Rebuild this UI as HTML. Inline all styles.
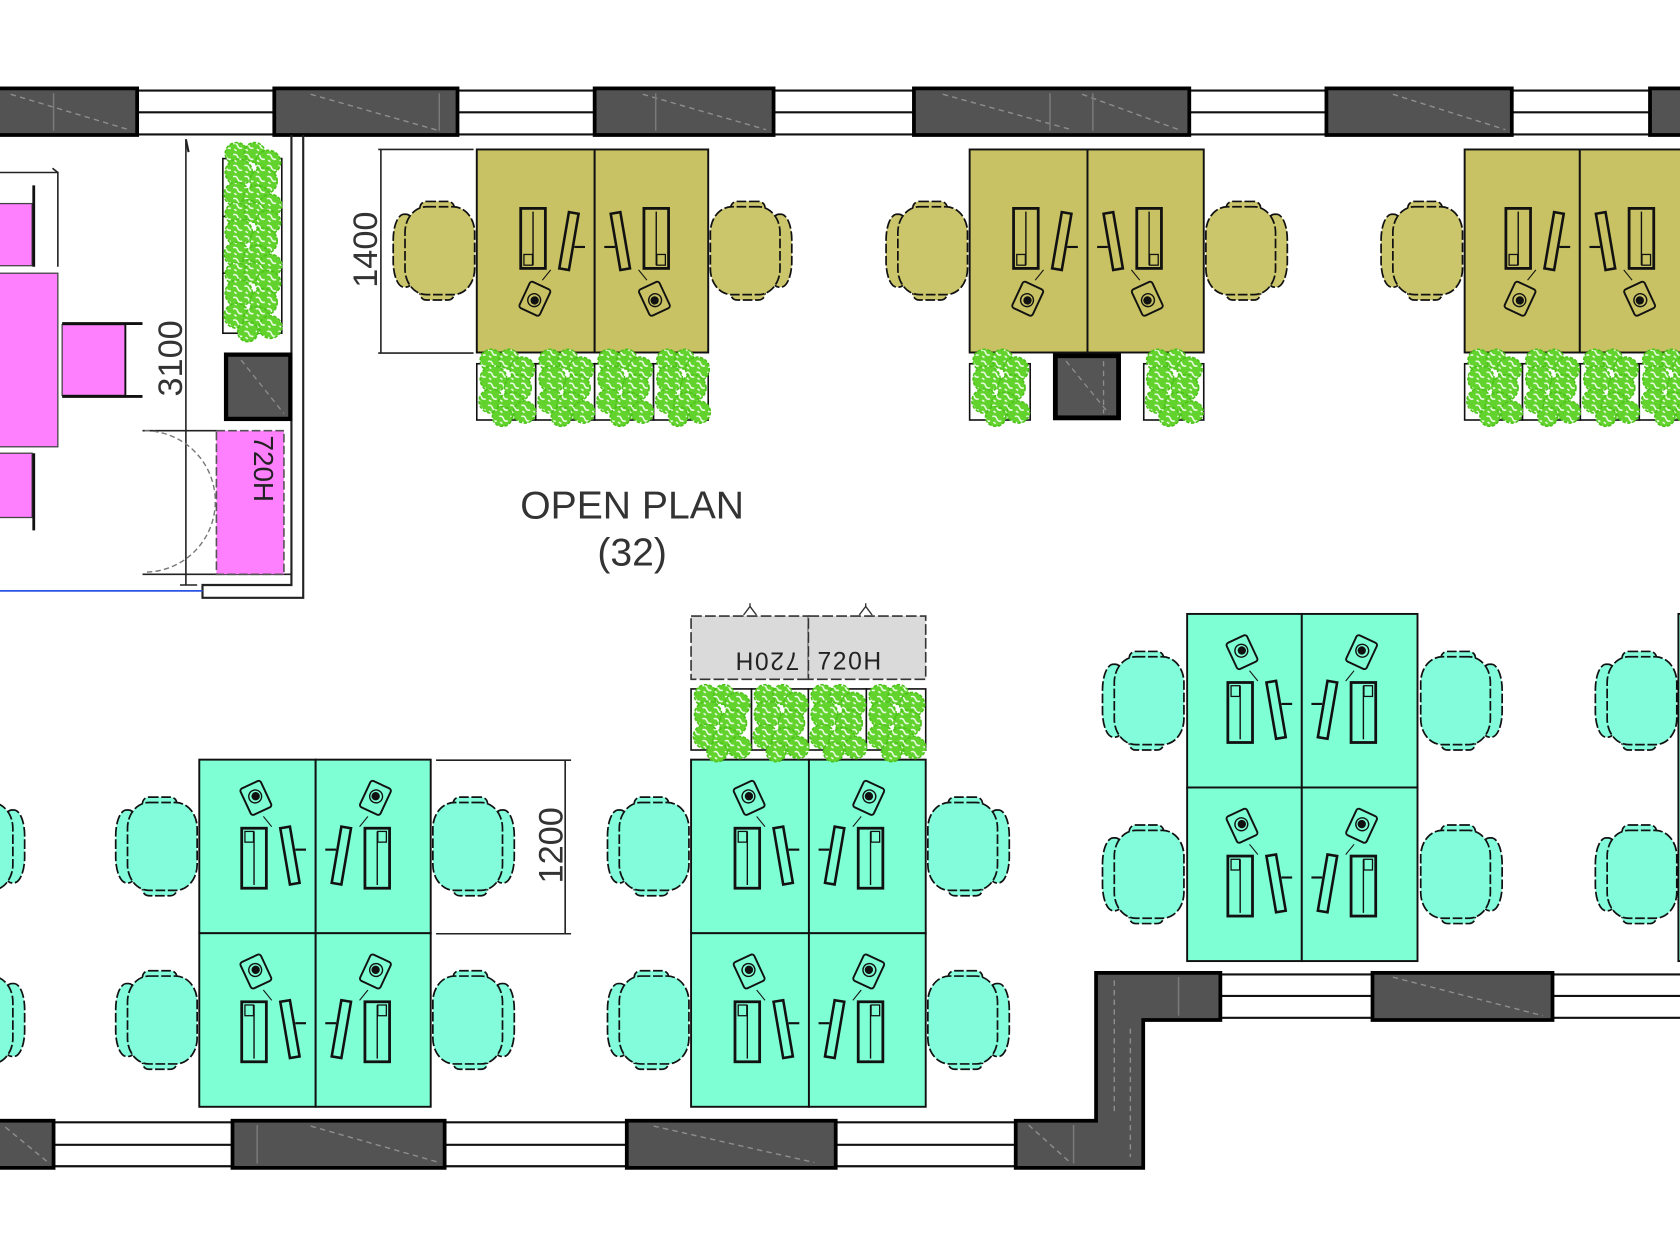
<!DOCTYPE html>
<html>
<head>
<meta charset="utf-8">
<style>
html,body{margin:0;padding:0;background:#fff;overflow:hidden;}
svg{display:block;}
</style>
</head>
<body>
<svg width="1680" height="1260" viewBox="0 0 1568 1176" xmlns="http://www.w3.org/2000/svg" xmlns:xlink="http://www.w3.org/1999/xlink" font-family="'Liberation Sans', Arial, sans-serif">
<defs>
  <pattern id="lf" width="10" height="10" patternUnits="userSpaceOnUse">
    <rect width="10" height="10" fill="#62d22c"/>
    <path d="M1 2 q3 -1 4 2 q1 3 4 2 M2 7 l2 1.5" stroke="#f2fff0" stroke-width="1.3" fill="none"/>
  </pattern>
  <symbol id="plant" viewBox="0 0 55 72" preserveAspectRatio="none">
    <g fill="url(#lf)" stroke="#4cc21a" stroke-width="1.4" stroke-dasharray="3 1.5">
      <circle cx="14" cy="11" r="10"/>
      <circle cx="30" cy="10" r="9"/>
      <circle cx="42" cy="19" r="11"/>
      <circle cx="16" cy="28" r="12"/>
      <circle cx="38" cy="36" r="12"/>
      <circle cx="14" cy="48" r="11"/>
      <circle cx="32" cy="52" r="12"/>
      <circle cx="44" cy="58" r="10"/>
      <circle cx="24" cy="62" r="9"/>
    </g>
  </symbol>
  <g id="chA" fill="#82fcda" stroke="#111" stroke-width="1.6" stroke-dasharray="9 2.5">
    <rect x="-78" y="-34" width="22" height="68" rx="10" ry="24"/>
    <rect x="-53" y="-46" width="32" height="14" rx="6"/>
    <rect x="-53" y="32" width="32" height="14" rx="6"/>
    <rect x="-67" y="-41" width="65" height="82" rx="20" ry="24"/>
  </g>
  <g id="chO" fill="#cbc56c" stroke="#111" stroke-width="1.6" stroke-dasharray="9 2.5">
    <rect x="-78" y="-34" width="22" height="68" rx="10" ry="24"/>
    <rect x="-53" y="-46" width="32" height="14" rx="6"/>
    <rect x="-53" y="32" width="32" height="14" rx="6"/>
    <rect x="-67" y="-41" width="65" height="82" rx="20" ry="24"/>
  </g>
  <g id="ico" fill="none" stroke="#111" stroke-width="1.8">
    <g transform="translate(-55.8,35.7) rotate(-25)">
      <rect x="-10.5" y="-13.5" width="21" height="27" rx="2.5"/>
      <circle cx="0" cy="-1.5" r="6" stroke-width="1.3"/>
      <circle cx="0.5" cy="-1.5" r="3" fill="#111"/>
    </g>
    <path d="M-48.8 53 L-41 62.6" stroke-width="1"/>
    <rect x="-69" y="64" width="23" height="56" stroke-width="2.6"/>
    <path d="M-57.5 67 V117" stroke-width="1.3"/>
    <rect x="-66" y="67" width="8" height="10" stroke-width="1.2"/>
    <path d="M-33 64 L-24 62.5 L-15 115 L-24 116.5 Z" stroke-width="2.4"/>
    <path d="M-19 84 H-9" stroke-width="2"/>
  </g>
</defs>

<rect x="0" y="0" width="1568" height="1176" fill="#fff"/>

<!-- ================= TOP WALL ================= -->
<g stroke="#111" stroke-width="2">
  <line x1="0" y1="84.5" x2="1568" y2="84.5"/>
  <line x1="0" y1="104.8" x2="1568" y2="104.8"/>
  <line x1="0" y1="125.5" x2="1568" y2="125.5"/>
</g>
<g fill="#535353" stroke="#000" stroke-width="3.5">
  <rect x="-5" y="82.5" width="133" height="43.5"/>
  <rect x="256" y="82.5" width="171" height="43.5"/>
  <rect x="555" y="82.5" width="167" height="43.5"/>
  <rect x="853" y="82.5" width="257" height="43.5"/>
  <rect x="1238" y="82.5" width="173" height="43.5"/>
  <rect x="1540" y="82.5" width="40" height="43.5"/>
</g>
<g stroke="#8e8e8e" stroke-width="1.3" stroke-dasharray="5 4" fill="none">
  <path d="M10 88 L120 121"/>
  <path d="M290 88 L410 122"/>
  <path d="M600 88 L715 121"/>
  <path d="M880 88 L1000 121 M1010 88 L1100 121"/>
  <path d="M1300 88 L1405 121"/>
</g>
<g stroke="#7a7a7a" stroke-width="1.4">
  <line x1="50" y1="87" x2="50" y2="122"/>
  <line x1="410" y1="87" x2="410" y2="122"/>
  <line x1="612" y1="87" x2="612" y2="122"/>
  <line x1="980" y1="87" x2="980" y2="122"/>
  <line x1="1020" y1="87" x2="1020" y2="122"/>
</g>

<!-- ================= BOTTOM WALL ================= -->
<g stroke="#111" stroke-width="2">
  <line x1="0" y1="1047.5" x2="1068" y2="1047.5"/>
  <line x1="0" y1="1068.5" x2="1068" y2="1068.5"/>
  <line x1="0" y1="1088.5" x2="1068" y2="1088.5"/>
  <line x1="1067" y1="909.5" x2="1568" y2="909.5"/>
  <line x1="1067" y1="929.5" x2="1568" y2="929.5"/>
  <line x1="1067" y1="950" x2="1568" y2="950"/>
</g>
<g fill="#535353" stroke="#000" stroke-width="3.5">
  <rect x="-5" y="1046" width="55" height="44"/>
  <rect x="217" y="1046" width="198" height="44"/>
  <rect x="585" y="1046" width="195" height="44"/>
  <rect x="1281" y="908" width="168" height="44"/>
  <path d="M1023 908 H1139 V952 H1067 V1090 H948 V1046 H1023 Z"/>
</g>
<g stroke="#8e8e8e" stroke-width="1.3" stroke-dasharray="5 4" fill="none">
  <path d="M5 1052 L45 1085"/>
  <path d="M290 1051 L410 1085"/>
  <path d="M610 1051 L760 1085"/>
  <path d="M1300 912 L1440 948"/>
  <path d="M1040 915 V1040 M1055 960 V1080"/>
  <path d="M960 1050 L1000 1086"/>
</g>
<g stroke="#7a7a7a" stroke-width="1.4">
  <line x1="240" y1="1050" x2="240" y2="1086"/>
  <line x1="1100" y1="912" x2="1100" y2="948"/>
  <line x1="1002" y1="1050" x2="1002" y2="1086"/>
</g>

<!-- ================= MEETING ROOM ================= -->
<g fill="#ff80ff" stroke="#444" stroke-width="1.2">
  <rect x="-2" y="255" width="56" height="162"/>
  <rect x="-2" y="190" width="32" height="58"/>
  <rect x="-2" y="423" width="32" height="60"/>
  <rect x="58" y="303" width="59" height="66"/>
</g>
<g stroke="#111" stroke-width="2.6" fill="none">
  <line x1="31.5" y1="173" x2="31.5" y2="249"/>
  <line x1="31.5" y1="423" x2="31.5" y2="495"/>
  <line x1="58" y1="302" x2="133" y2="302"/>
  <line x1="58" y1="370" x2="133" y2="370"/>
  <line x1="117" y1="302" x2="117" y2="370" stroke-width="1.8"/>
</g>
<g stroke="#222" stroke-width="1.5" fill="none">
  <path d="M0 161 H54 V249"/>
  <line x1="49" y1="157" x2="54" y2="161"/>
</g>
<g stroke="#222" stroke-width="2" fill="none">
  <path d="M272 126 V546 H189 V558 H283 V126"/>
</g>
<line x1="0" y1="551.5" x2="189" y2="551.5" stroke="#2a55e6" stroke-width="1.6"/>
<g stroke="#222" stroke-width="1.5" fill="none">
  <line x1="173.5" y1="130" x2="173.5" y2="546"/>
  <line x1="168" y1="546" x2="184" y2="546"/>
  <line x1="173.5" y1="130" x2="176" y2="142" stroke-width="2"/>
</g>
<text transform="translate(170,334.5) rotate(-90)" text-anchor="middle" font-size="32" fill="#333">3100</text>
<g stroke="#222" stroke-width="1.5" fill="none">
  <line x1="133" y1="402" x2="202" y2="402"/>
  <line x1="133" y1="536" x2="272" y2="536"/>
</g>
<path d="M135 402 A66 66 0 0 1 135 534" fill="none" stroke="#777" stroke-width="1.3" stroke-dasharray="5 3"/>
<rect x="202" y="402" width="63" height="134" fill="#ff80ff" stroke="#555" stroke-width="1.5" stroke-dasharray="8 3"/>
<text transform="translate(237,437.5) rotate(90)" text-anchor="middle" font-size="26" fill="#222">720H</text>
<rect x="211" y="331" width="60" height="60" fill="#555" stroke="#000" stroke-width="4"/>
<path d="M225 336 L265 386" stroke="#8e8e8e" stroke-width="1.2" stroke-dasharray="5 4"/>
<rect x="208" y="148" width="55" height="163" fill="#fff" stroke="#111" stroke-width="1.5"/>
<g stroke="#111" stroke-width="1.5">
  <line x1="208" y1="202" x2="236" y2="202"/>
  <line x1="208" y1="255" x2="236" y2="255"/>
</g>
<use xlink:href="#plant" href="#plant" x="206" y="132" width="58" height="74"/>
<use xlink:href="#plant" href="#plant" x="206" y="188" width="58" height="74"/>
<use xlink:href="#plant" href="#plant" x="206" y="244" width="58" height="76"/>

<!-- ================= TOP OLIVE CLUSTERS ================= -->
<g stroke="#222" stroke-width="1.5" fill="none">
  <line x1="355.5" y1="139.5" x2="355.5" y2="329.5"/>
  <line x1="353" y1="139.5" x2="442" y2="139.5"/>
  <line x1="353" y1="329.5" x2="442" y2="329.5"/>
</g>
<text transform="translate(352,233) rotate(-90)" text-anchor="middle" font-size="32" fill="#333">1400</text>

<g fill="#c8c264" stroke="#111" stroke-width="1.8">
  <rect x="445" y="139.5" width="110" height="189.5"/>
  <rect x="555" y="139.5" width="106" height="189.5"/>
  <rect x="905" y="139.5" width="110" height="189.5"/>
  <rect x="1015" y="139.5" width="108.5" height="189.5"/>
  <rect x="1367" y="139.5" width="107.5" height="189.5"/>
  <rect x="1474.5" y="139.5" width="110" height="189.5"/>
</g>
<g>
  <use xlink:href="#ico" href="#ico" transform="translate(555,314.5) scale(1,-1)"/>
  <use xlink:href="#ico" href="#ico" transform="translate(555,314.5) scale(-1,-1)"/>
  <use xlink:href="#ico" href="#ico" transform="translate(1015,314.5) scale(1,-1)"/>
  <use xlink:href="#ico" href="#ico" transform="translate(1015,314.5) scale(-1,-1)"/>
  <use xlink:href="#ico" href="#ico" transform="translate(1474.5,314.5) scale(1,-1)"/>
  <use xlink:href="#ico" href="#ico" transform="translate(1474.5,314.5) scale(-1,-1)"/>
</g>
<g>
  <use xlink:href="#chO" href="#chO" transform="translate(445,234)"/>
  <use xlink:href="#chO" href="#chO" transform="translate(661,234) scale(-1,1)"/>
  <use xlink:href="#chO" href="#chO" transform="translate(905,234)"/>
  <use xlink:href="#chO" href="#chO" transform="translate(1123.5,234) scale(-1,1)"/>
  <use xlink:href="#chO" href="#chO" transform="translate(1367,234)"/>
</g>
<g fill="#fff" stroke="#111" stroke-width="1.5">
  <rect x="445" y="339.5" width="55" height="52.5"/>
  <rect x="500" y="339.5" width="55" height="52.5"/>
  <rect x="555" y="339.5" width="55" height="52.5"/>
  <rect x="610" y="339.5" width="51" height="52.5"/>
  <rect x="905" y="339.5" width="56.5" height="52.5"/>
  <rect x="1067.5" y="339.5" width="56" height="52.5"/>
  <rect x="1367" y="339.5" width="54" height="52.5"/>
  <rect x="1421" y="339.5" width="54" height="52.5"/>
  <rect x="1475" y="339.5" width="55" height="52.5"/>
  <rect x="1530" y="339.5" width="55" height="52.5"/>
</g>
<rect x="985" y="332" width="59" height="58" fill="#555" stroke="#000" stroke-width="4.5"/>
<path d="M995 337 L1035 386 M1030 337 V386" stroke="#8e8e8e" stroke-width="1.2" stroke-dasharray="5 4" fill="none"/>
<g>
  <use xlink:href="#plant" href="#plant" x="444" y="325" width="57" height="74"/>
  <use xlink:href="#plant" href="#plant" x="499" y="325" width="57" height="74"/>
  <use xlink:href="#plant" href="#plant" x="554" y="325" width="57" height="74"/>
  <use xlink:href="#plant" href="#plant" x="609" y="325" width="55" height="74"/>
  <use xlink:href="#plant" href="#plant" x="904" y="325" width="58" height="74"/>
  <use xlink:href="#plant" href="#plant" x="1066" y="325" width="58" height="74"/>
  <use xlink:href="#plant" href="#plant" x="1366" y="325" width="56" height="74"/>
  <use xlink:href="#plant" href="#plant" x="1420" y="325" width="56" height="74"/>
  <use xlink:href="#plant" href="#plant" x="1474" y="325" width="57" height="74"/>
  <use xlink:href="#plant" href="#plant" x="1529" y="325" width="57" height="74"/>
</g>

<!-- ================= LABEL ================= -->
<text x="590" y="484" text-anchor="middle" font-size="36.5" fill="#333">OPEN PLAN</text>
<text x="590" y="528" text-anchor="middle" font-size="36.5" fill="#333">(32)</text>

<!-- ================= BOTTOM-LEFT AQUA CLUSTER ================= -->
<g fill="#7fffd4" stroke="#111" stroke-width="1.8">
  <rect x="186" y="709" width="108.6" height="162"/>
  <rect x="294.6" y="709" width="107.4" height="162"/>
  <rect x="186" y="871" width="108.6" height="162"/>
  <rect x="294.6" y="871" width="107.4" height="162"/>
</g>
<g>
  <use xlink:href="#ico" href="#ico" transform="translate(294.6,709)"/>
  <use xlink:href="#ico" href="#ico" transform="translate(294.6,709) scale(-1,1)"/>
  <use xlink:href="#ico" href="#ico" transform="translate(294.6,871)"/>
  <use xlink:href="#ico" href="#ico" transform="translate(294.6,871) scale(-1,1)"/>
</g>
<g>
  <use xlink:href="#chA" href="#chA" transform="translate(186,790)"/>
  <use xlink:href="#chA" href="#chA" transform="translate(186,952)"/>
  <use xlink:href="#chA" href="#chA" transform="translate(402,790) scale(-1,1)"/>
  <use xlink:href="#chA" href="#chA" transform="translate(402,952) scale(-1,1)"/>
  <use xlink:href="#chA" href="#chA" transform="translate(-55,790) scale(-1,1)"/>
  <use xlink:href="#chA" href="#chA" transform="translate(-55,952) scale(-1,1)"/>
</g>
<g stroke="#222" stroke-width="1.5" fill="none">
  <line x1="527.5" y1="709.5" x2="527.5" y2="871.5"/>
  <line x1="407" y1="709.5" x2="533" y2="709.5"/>
  <line x1="407" y1="871.5" x2="533" y2="871.5"/>
</g>
<text transform="translate(525,789) rotate(-90)" text-anchor="middle" font-size="32" fill="#333">1200</text>

<!-- ================= MIDDLE AQUA CLUSTER ================= -->
<g stroke="#333" stroke-width="1.3" fill="none">
  <path d="M694 574 L700 566 L706 574 M700 566 V563"/>
  <path d="M802 574 L808 566 L814 574 M808 566 V563"/>
</g>
<g fill="#dadada" stroke="#333" stroke-width="1.5" stroke-dasharray="10 3">
  <rect x="645" y="575" width="109.5" height="59"/>
  <rect x="754.5" y="575" width="109.5" height="59"/>
</g>
<text x="715.5" y="625" transform="rotate(180 715.5 617)" text-anchor="middle" font-size="23" letter-spacing="1.5" fill="#222">720H</text>
<text x="763" y="625" font-size="23" letter-spacing="1.5" fill="#222">720H</text>
<g fill="#fff" stroke="#111" stroke-width="1.5">
  <rect x="645" y="643" width="56.4" height="57"/>
  <rect x="701.4" y="643" width="53.1" height="57"/>
  <rect x="754.5" y="643" width="54.1" height="57"/>
  <rect x="808.6" y="643" width="55.4" height="57"/>
</g>
<g fill="#7fffd4" stroke="#111" stroke-width="1.8">
  <rect x="645" y="709" width="110" height="162"/>
  <rect x="755" y="709" width="109" height="162"/>
  <rect x="645" y="871" width="110" height="162"/>
  <rect x="755" y="871" width="109" height="162"/>
</g>
<g>
  <use xlink:href="#plant" href="#plant" x="644" y="638" width="58" height="74"/>
  <use xlink:href="#plant" href="#plant" x="700" y="638" width="56" height="74"/>
  <use xlink:href="#plant" href="#plant" x="753" y="638" width="57" height="74"/>
  <use xlink:href="#plant" href="#plant" x="807" y="638" width="58" height="74"/>
</g>
<g>
  <use xlink:href="#ico" href="#ico" transform="translate(755,709)"/>
  <use xlink:href="#ico" href="#ico" transform="translate(755,709) scale(-1,1)"/>
  <use xlink:href="#ico" href="#ico" transform="translate(755,871)"/>
  <use xlink:href="#ico" href="#ico" transform="translate(755,871) scale(-1,1)"/>
</g>
<g>
  <use xlink:href="#chA" href="#chA" transform="translate(645,790)"/>
  <use xlink:href="#chA" href="#chA" transform="translate(645,952)"/>
  <use xlink:href="#chA" href="#chA" transform="translate(864,790) scale(-1,1)"/>
  <use xlink:href="#chA" href="#chA" transform="translate(864,952) scale(-1,1)"/>
</g>

<!-- ================= RIGHT AQUA CLUSTER ================= -->
<g fill="#7fffd4" stroke="#111" stroke-width="1.8">
  <rect x="1108" y="573" width="107" height="162"/>
  <rect x="1215" y="573" width="108" height="162"/>
  <rect x="1108" y="735" width="107" height="162"/>
  <rect x="1215" y="735" width="108" height="162"/>
  <rect x="1566.5" y="573" width="30" height="324"/>
</g>
<g>
  <use xlink:href="#ico" href="#ico" transform="translate(1215,573)"/>
  <use xlink:href="#ico" href="#ico" transform="translate(1215,573) scale(-1,1)"/>
  <use xlink:href="#ico" href="#ico" transform="translate(1215,735)"/>
  <use xlink:href="#ico" href="#ico" transform="translate(1215,735) scale(-1,1)"/>
</g>
<g>
  <use xlink:href="#chA" href="#chA" transform="translate(1107,654)"/>
  <use xlink:href="#chA" href="#chA" transform="translate(1107,816)"/>
  <use xlink:href="#chA" href="#chA" transform="translate(1324,654) scale(-1,1)"/>
  <use xlink:href="#chA" href="#chA" transform="translate(1324,816) scale(-1,1)"/>
  <use xlink:href="#chA" href="#chA" transform="translate(1567,654)"/>
  <use xlink:href="#chA" href="#chA" transform="translate(1567,816)"/>
</g>

</svg>
</body>
</html>
